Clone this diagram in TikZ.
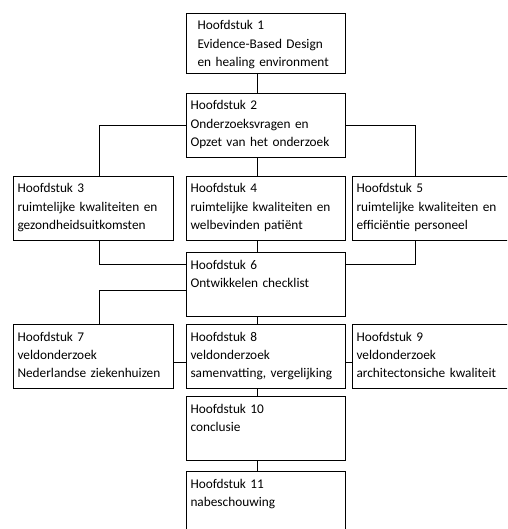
\documentclass[tikz,border=0pt]{standalone}
\usepackage{fontspec}
\setmainfont{Carlito}
\begin{document}
\begin{tikzpicture}[x=1pt,y=-1pt,
  box/.style 2 args={draw=black, line width=1pt, anchor=north west, align=left,
    text width=#1-8pt, inner xsep=4pt, inner ysep=4pt,
    font=\fontsize{13.3}{18.3}\selectfont,
    text height=12.5pt, text depth=#2-20.5pt},
  conn/.style={draw=black, line width=1pt}]
\useasboundingbox (0,0) rectangle (507,529);
\clip (0,0) rectangle (507,529);
\node[box={159pt}{60pt}, inner xsep=11pt, text width=137pt] (b1) at (186,13) {Hoofdstuk 1\\Evidence-Based Design\\en healing environment};
\node[box={159pt}{64pt}] (b2) at (186,93) {Hoofdstuk 2\\Onderzoeksvragen en\\Opzet van het onderzoek};
\node[box={160pt}{64pt}] (b3) at (13,176) {Hoofdstuk 3\\ruimtelijke kwaliteiten en\\gezondheidsuitkomsten};
\node[box={159pt}{64pt}] (b4) at (186,176) {Hoofdstuk 4\\ruimtelijke kwaliteiten en\\welbevinden pati\"ent};
\node[box={159pt}{64pt}] (b5) at (352,176) {Hoofdstuk 5\\ruimtelijke kwaliteiten en\\effici\"entie personeel};
\node[box={159pt}{64pt}] (b6) at (186,252) {Hoofdstuk 6\\Ontwikkelen checklist};
\node[box={160pt}{64pt}] (b7) at (13,324) {Hoofdstuk 7\\veldonderzoek\\Nederlandse ziekenhuizen};
\node[box={159pt}{64pt}] (b8) at (186,324) {Hoofdstuk 8\\veldonderzoek\\samenvatting, vergelijking};
\node[box={159pt}{64pt}] (b9) at (352,324) {Hoofdstuk 9\\veldonderzoek\\architectonsiche kwaliteit};
\node[box={159pt}{64pt}] (b10) at (186,396) {Hoofdstuk 10\\conclusie};
\node[box={159pt}{64pt}] (b11) at (186,471) {Hoofdstuk 11\\nabeschouwing};
\coordinate (mx) at (257,0);
\coordinate (lx) at (99,0);
\coordinate (rx) at (415,0);
\coordinate (h6) at (0,264);
\coordinate (h7) at (0,290);
\coordinate (h8) at (0,362);
\draw[conn] (b1.south -| mx) -- (b2.north -| mx);
\draw[conn] (b2.west) -| (b3.north -| lx);
\draw[conn] (b2.east) -| (b5.north -| rx);
\draw[conn] (b2.south -| mx) -- (b4.north -| mx);
\draw[conn] (b3.south -| lx) |- (b6.west |- h6);
\draw[conn] (b5.south -| rx) |- (b6.east |- h6);
\draw[conn] (b4.south -| mx) -- (b6.north -| mx);
\draw[conn] (b6.west |- h7) -| (b7.north -| lx);
\draw[conn] (b6.south -| mx) -- (b8.north -| mx);
\draw[conn] (b7.east |- h8) -- (b8.west |- h8);
\draw[conn] (b8.east |- h8) -- (b9.west |- h8);
\draw[conn] (b8.south -| mx) -- (b10.north -| mx);
\draw[conn] (b10.south -| mx) -- (b11.north -| mx);
\end{tikzpicture}
\end{document}
